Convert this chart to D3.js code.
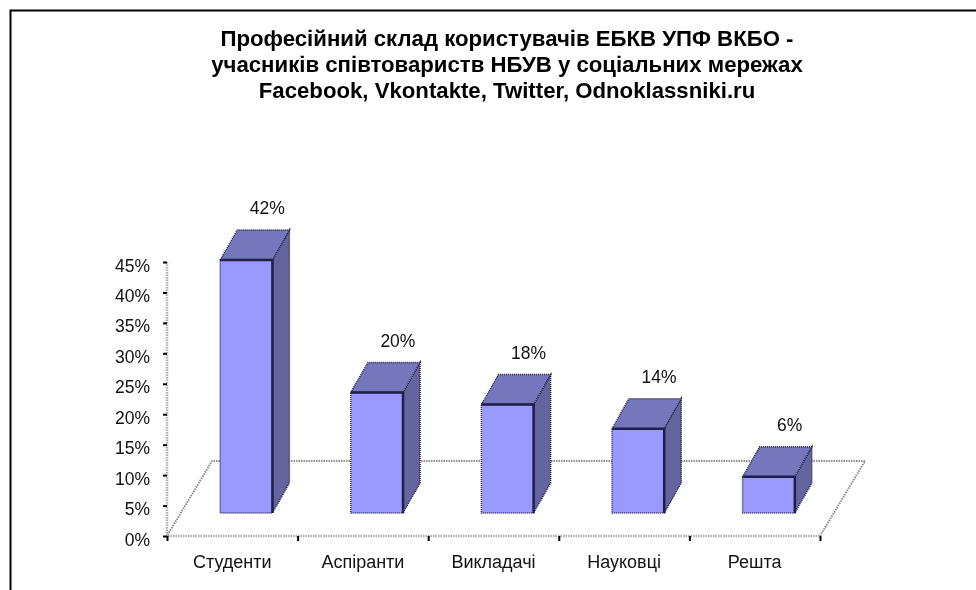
<!DOCTYPE html>
<html>
  <head>
    <meta charset="utf-8">
    <title>Професійний склад користувачів</title>
    <style>
      html, body { margin: 0; padding: 0; background: #fff; overflow: hidden; }
      svg { display: block; font-family: "Liberation Sans", Arial, sans-serif; filter: blur(0.35px); }
      .floor { fill: none; stroke: #8c8c8c; stroke-width: 2; stroke-dasharray: 1.5 1; }
      .wall { fill: none; stroke: #adadad; stroke-width: 2.5; stroke-dasharray: 1.5 1; }
      .axis text { font-size: 17.5px; fill: #111; font-family: "Liberation Sans", Arial, sans-serif; }
      .axis.names text { font-size: 18px; }
      .axis line { stroke: #000; stroke-width: 2; }
      .axis path { display: none; }
      .title { font-size: 22.2px; font-weight: bold; text-anchor: middle; }
      .value { font-size: 17.5px; text-anchor: middle; fill: #111; }
    </style>
  </head>
  <body>
    <script src="https://d3js.org/d3.v7.min.js"></script>
    <script>
      var titleLines = [
        "Професійний склад користувачів ЕБКВ УПФ ВКБО -",
        "учасників співтовариств НБУВ у соціальних мережах",
        "Facebook, Vkontakte, Twitter, Odnoklassniki.ru"
      ];
      var categories = ["Студенти", "Аспіранти", "Викладачі", "Науковці", "Решта"];
      var values = [42, 20, 18, 14, 6];
      var yTicks = [0, 5, 10, 15, 20, 25, 30, 35, 40, 45];

      var width = 976, height = 590;

      var svg = d3.select("body").append("svg")
          .attr("width", width)
          .attr("height", height);

      // chart frame, only the left and top edges are in the picture
      svg.append("path")
          .attr("d", "M10.5,600V10.5H980")
          .attr("fill", "none")
          .attr("stroke", "#000")
          .attr("stroke-width", 2);

      svg.selectAll(".title")
          .data(titleLines)
          .enter().append("text")
          .attr("class", "title")
          .attr("x", 507)
          .attr("y", function(d, i) { return 46 + i * 26; })
          .text(function(d) { return d; });

      // set the ranges
      var x0 = 167, x1 = 820, y0 = 536, yTop = 262;
      var x = d3.scaleBand().domain(categories).range([x0, x1]).paddingInner(0.6).paddingOuter(0.3);
      var xBounds = d3.scaleLinear().domain([0, categories.length]).range([x0, x1]);
      var y = d3.scaleLinear().domain([0, 45]).range([y0, yTop]);

      // bars stand further back on the floor so they get their own scale
      var barBase = 513, barShift = 14;
      var yBar = d3.scaleLinear().domain([0, 45]).range([barBase, barBase - 271]);
      var depthX = 17, depthY = 30;
      var floorX = 45, floorY = 75;

      // floor and wall
      svg.append("path")
          .attr("class", "floor")
          .attr("d", d3.line()([[x1, y0], [x1 + floorX, y0 - floorY], [x0 + floorX, y0 - floorY], [x0, y0]]));

      svg.append("path")
          .attr("class", "wall")
          .attr("d", d3.line()([[x0, yTop], [x0, y0], [x1, y0]]));

      var bars = svg.selectAll(".bar")
          .data(categories)
          .enter().append("g")
          .attr("class", "bar");

      function barLeft(d) { return x(d) + barShift; }
      function barRight(d) { return barLeft(d) + x.bandwidth(); }
      function barTop(d, i) { return yBar(values[i]); }

      // side face
      bars.append("path")
          .attr("fill", "#64649f")
          .attr("stroke", "#1f1f40")
          .attr("stroke-width", 1.5)
          .attr("stroke-dasharray", "1 1")
          .attr("d", function(d, i) {
            return d3.line()([[barRight(d), barTop(d, i)], [barRight(d) + depthX, barTop(d, i) - depthY],
              [barRight(d) + depthX, barBase - depthY], [barRight(d), barBase]]) + "Z";
          });

      // top face
      bars.append("path")
          .attr("fill", "#7676bd")
          .attr("stroke", "#1f1f40")
          .attr("stroke-width", 1.5)
          .attr("stroke-dasharray", "1 1")
          .attr("d", function(d, i) {
            return d3.line()([[barLeft(d), barTop(d, i)], [barLeft(d) + depthX, barTop(d, i) - depthY],
              [barRight(d) + depthX, barTop(d, i) - depthY], [barRight(d), barTop(d, i)]]) + "Z";
          });

      // front face
      bars.append("rect")
          .attr("fill", "#9999ff")
          .attr("stroke", "#2f2f55")
          .attr("stroke-width", 1.5)
          .attr("stroke-dasharray", "1 1")
          .attr("x", barLeft)
          .attr("y", barTop)
          .attr("width", x.bandwidth())
          .attr("height", function(d, i) { return barBase - barTop(d, i); });

      // dark edges along the top and right of the front face
      bars.append("path")
          .attr("fill", "none")
          .attr("stroke", "#1f1f4a")
          .attr("stroke-width", 2.5)
          .attr("d", function(d, i) {
            return d3.line()([[barLeft(d), barTop(d, i)], [barRight(d), barTop(d, i)], [barRight(d), barBase]]);
          });

      bars.append("text")
          .attr("class", "value")
          .attr("x", function(d) { return barLeft(d) + x.bandwidth() / 2 + 21; })
          .attr("y", function(d, i) { return barTop(d, i) - 46; })
          .text(function(d, i) { return values[i] + "%"; });

      // add the y axis
      svg.append("g")
          .attr("class", "axis")
          .attr("transform", "translate(" + x0 + ",0)")
          .call(d3.axisLeft(y).tickValues(yTicks).tickSize(4).tickPadding(13)
            .tickFormat(function(d) { return d + "%"; }))
          .selectAll("text")
          .attr("dy", "0.52em");

      // x axis: tick marks sit between the categories, labels in the middle
      svg.append("g")
          .attr("class", "axis")
          .attr("transform", "translate(0," + y0 + ")")
          .call(d3.axisBottom(xBounds).tickValues(d3.range(categories.length + 1)).tickSize(5)
            .tickFormat(""));

      svg.append("g")
          .attr("class", "axis names")
          .attr("transform", "translate(0," + y0 + ")")
          .call(d3.axisBottom(d3.scaleBand().domain(categories).range([x0, x1])).tickSize(0).tickPadding(19));
    </script>
  </body>
</html>
